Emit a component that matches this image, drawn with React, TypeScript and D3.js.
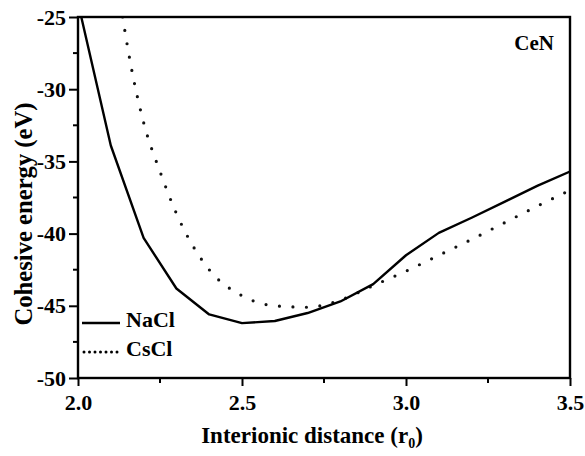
import { useEffect, useRef } from "react";
import * as d3 from "d3";

const NACL_X = [2.01, 2.1, 2.2, 2.3, 2.4, 2.5, 2.6, 2.7, 2.8, 2.9, 3.0, 3.1, 3.2, 3.3, 3.4, 3.5];
const NACL_Y = [-25, -33.9, -40.3, -43.8, -45.6, -46.2, -46.05, -45.5, -44.7, -43.5, -41.5, -39.95, -38.9, -37.8, -36.7, -35.7];

const CSCL_X = [2.136, 2.16, 2.2, 2.25, 2.3, 2.4, 2.5, 2.6, 2.7, 2.8, 2.9, 3.0, 3.1, 3.2, 3.3, 3.4, 3.5];
const CSCL_Y = [-25, -28.2, -32.3, -35.7, -38.6, -42.5, -44.3, -45.0, -45.1, -44.6, -43.6, -42.6, -41.5, -40.4, -39.25, -38.1, -37.0];

const X_TICKS = [2.0, 2.5, 3.0, 3.5];
const X_MINOR = [2.25, 2.75, 3.25];
const Y_TICKS = [-25, -30, -35, -40, -45, -50];
const Y_MINOR = [-27.5, -32.5, -37.5, -42.5, -47.5];

export default function App() {
  const svgRef = useRef<SVGSVGElement>(null);

  useEffect(() => {
    const width = 585;
    const height = 456;
    const margin = { top: 17, right: 15, bottom: 78, left: 78 };
    const font = "'Liberation Serif', 'Times New Roman', serif";

    const svg = d3.select(svgRef.current);
    svg.selectAll("*").remove();
    svg.attr("width", width).attr("height", height);

    svg.append("rect").attr("width", width).attr("height", height).attr("fill", "#fff");

    const x = d3.scaleLinear().domain([2.0, 3.5]).range([margin.left, width - margin.right]);
    const y = d3.scaleLinear().domain([-50, -25]).range([height - margin.bottom, margin.top]);

    const clipId = "plot-clip";
    svg
      .append("clipPath")
      .attr("id", clipId)
      .append("rect")
      .attr("x", margin.left)
      .attr("y", margin.top)
      .attr("width", width - margin.left - margin.right)
      .attr("height", height - margin.top - margin.bottom);

    const nacl = NACL_X.map((v, i) => [v, NACL_Y[i]] as [number, number]);
    const cscl = CSCL_X.map((v, i) => [v, CSCL_Y[i]] as [number, number]);

    const lineStraight = d3
      .line<[number, number]>()
      .x((d) => x(d[0]))
      .y((d) => y(d[1]));
    const lineSmooth = d3
      .line<[number, number]>()
      .x((d) => x(d[0]))
      .y((d) => y(d[1]))
      .curve(d3.curveMonotoneX);

    svg
      .append("path")
      .datum(cscl)
      .attr("clip-path", `url(#${clipId})`)
      .attr("d", lineSmooth)
      .attr("fill", "none")
      .attr("stroke", "#111")
      .attr("stroke-width", 3.2)
      .attr("stroke-linecap", "round")
      .attr("stroke-dasharray", "0 13.5");

    svg
      .append("path")
      .datum(nacl)
      .attr("clip-path", `url(#${clipId})`)
      .attr("d", lineStraight)
      .attr("fill", "none")
      .attr("stroke", "#000")
      .attr("stroke-width", 2.4)
      .attr("stroke-linejoin", "round");

    // frame
    svg
      .append("rect")
      .attr("x", margin.left)
      .attr("y", margin.top)
      .attr("width", width - margin.left - margin.right)
      .attr("height", height - margin.top - margin.bottom)
      .attr("fill", "none")
      .attr("stroke", "#000")
      .attr("stroke-width", 2.4);

    const styleText = (g: any, size: number) =>
      g.selectAll("text").attr("fill", "#000").attr("font-family", font).attr("font-weight", "bold").attr("font-size", size);

    // x axis
    const xAxis = svg
      .append("g")
      .attr("transform", `translate(0, ${height - margin.bottom})`)
      .call(d3.axisBottom(x).tickValues(X_TICKS).tickFormat(d3.format(".1f")).tickSize(8).tickPadding(8))
      .call((g) => g.select(".domain").remove())
      .call((g) => g.selectAll("line").attr("stroke", "#000").attr("stroke-width", 2))
      .call((g) => styleText(g, 22));
    xAxis
      .selectAll("line.minor")
      .data(X_MINOR)
      .join("line")
      .attr("class", "minor")
      .attr("x1", (d) => x(d))
      .attr("x2", (d) => x(d))
      .attr("y1", 0)
      .attr("y2", 5)
      .attr("stroke", "#000")
      .attr("stroke-width", 2);

    // y axis
    const yAxis = svg
      .append("g")
      .attr("transform", `translate(${margin.left}, 0)`)
      .call(
        d3
          .axisLeft(y)
          .tickValues(Y_TICKS)
          .tickFormat((d) => String(d))
          .tickSize(9)
          .tickPadding(3)
      )
      .call((g) => g.select(".domain").remove())
      .call((g) => g.selectAll("line").attr("stroke", "#000").attr("stroke-width", 2))
      .call((g) => styleText(g, 22));
    yAxis
      .selectAll("line.minor")
      .data(Y_MINOR)
      .join("line")
      .attr("class", "minor")
      .attr("y1", (d) => y(d))
      .attr("y2", (d) => y(d))
      .attr("x1", 0)
      .attr("x2", -5)
      .attr("stroke", "#000")
      .attr("stroke-width", 2);

    // axis titles
    const title = svg
      .append("text")
      .attr("x", 312)
      .attr("y", 443)
      .attr("text-anchor", "middle")
      .attr("font-family", font)
      .attr("font-weight", "bold")
      .attr("font-size", 23)
      .attr("fill", "#000");
    title.append("tspan").text("Interionic distance (r");
    title.append("tspan").attr("font-size", 14).attr("dy", 5).text("0");
    title.append("tspan").attr("dy", -5).text(")");

    svg
      .append("text")
      .attr("transform", "translate(32, 214) rotate(-90)")
      .attr("text-anchor", "middle")
      .attr("font-family", font)
      .attr("font-weight", "bold")
      .attr("font-size", 25)
      .attr("textLength", 223)
      .attr("lengthAdjust", "spacingAndGlyphs")
      .attr("fill", "#000")
      .text("Cohesive energy (eV)");

    svg
      .append("text")
      .attr("x", 554)
      .attr("y", 50)
      .attr("text-anchor", "end")
      .attr("font-family", font)
      .attr("font-weight", "bold")
      .attr("font-size", 21)
      .attr("fill", "#000")
      .text("CeN");

    // legend
    const legend = [
      { label: "NaCl", dash: null, y: 323 },
      { label: "CsCl", dash: "0 5.5", y: 352 },
    ];
    legend.forEach((l) => {
      svg
        .append("line")
        .attr("x1", l.dash ? 84 : 82)
        .attr("x2", 120)
        .attr("y1", l.y)
        .attr("y2", l.y)
        .attr("stroke", "#000")
        .attr("stroke-width", l.dash ? 3 : 2.4)
        .attr("stroke-linecap", l.dash ? "round" : "butt")
        .attr("stroke-dasharray", l.dash);
      svg
        .append("text")
        .attr("x", 126)
        .attr("y", l.y + 4)
        .attr("font-family", font)
        .attr("font-weight", "bold")
        .attr("font-size", 22)
        .attr("fill", "#000")
        .text(l.label);
    });
  }, []);

  return <svg ref={svgRef} style={{ position: "absolute", left: 0, top: 0 }} />;
}
